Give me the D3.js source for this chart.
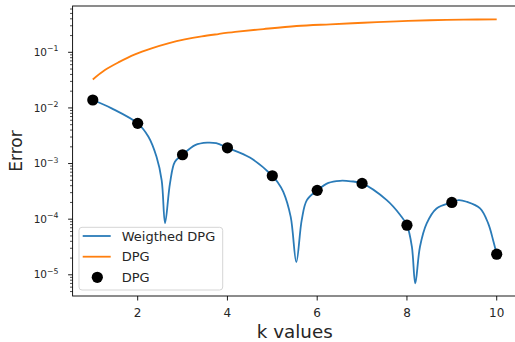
<!DOCTYPE html>
<html>
<head>
<meta charset="utf-8">
<script src="https://cdn.jsdelivr.net/npm/d3@7"></script>
<style>
  body { margin: 0; background: #fff; }
  text { font-family: "DejaVu Sans", sans-serif; fill: #262626; }
</style>
</head>
<body>
<div class="canvas"></div>
<script>
// dots: k = 1..10
const kValues = [1, 2, 3, 4, 5, 6, 7, 8, 9, 10];
const dpgDots = [0.0139, 0.00528, 0.00144, 0.00192, 0.000604, 0.00033, 0.00044, 0.000078, 0.0002, 0.0000235];

// weighted DPG curve
const weightedK = [1, 1.42, 2, 2.24, 2.42, 2.535, 2.61, 2.72, 2.83, 3, 3.28, 3.55, 3.75, 4, 4.5, 5, 5.12,
  5.245, 5.41, 5.535, 5.655, 5.77, 6, 6.25, 6.51, 6.75, 7, 7.55, 7.85, 8, 8.11, 8.185, 8.29,
  8.44, 8.66, 9, 9.15, 9.33, 9.63, 9.81, 9.92, 10];
const weightedErr = [0.0139, 0.00984, 0.00528, 0.00303, 0.00132, 0.0005, 0.000085, 0.00044, 0.00108, 0.00144,
  0.00215, 0.00238, 0.00232, 0.00192, 0.00128, 0.000604, 0.00046, 0.00031, 0.00011, 0.000017, 0.000096, 0.00022,
  0.00033, 0.00045, 0.00049, 0.00048, 0.00044, 0.00022, 0.000119, 0.000078, 0.000032, 0.000007,
  0.000032, 0.000084, 0.000156, 0.0002, 0.00022, 0.000206, 0.000156, 0.000084, 0.000042, 0.0000235];

// DPG curve
const dpgK = [1, 1.27, 1.57, 1.94, 2.31, 2.68, 3.05, 3.43, 3.8, 4.17, 4.8, 5.54, 6.29, 7.03, 7.77, 8.51, 9.26, 10];
const dpgErr = [0.0325, 0.048, 0.066, 0.092, 0.118, 0.145, 0.171, 0.194, 0.213, 0.232, 0.262, 0.297, 0.319,
  0.34, 0.361, 0.377, 0.386, 0.392];

const xTicks = [2, 4, 6, 8, 10];
const yExps = [-1, -2, -3, -4, -5];

const W = 515, H = 342;
const padL = 72.6, padR = 516.9, padT = 6, padB = 296;

const svg = d3.select(".canvas").append("svg").attr("width", W).attr("height", H);

const x = d3.scaleLinear().domain([0.55, 10.45]).range([padL, padR]);
const y = d3.scaleLog().domain([4.16e-6, 0.68]).range([padB, padT]);

const plot = svg.append("g");

const line = d3.line()
  .x((d) => x(d[0]))
  .y((d) => y(d[1]))
  .curve(d3.curveCatmullRom.alpha(0.5));

plot.append("path")
  .datum(d3.zip(weightedK, weightedErr))
  .attr("d", line)
  .attr("fill", "none")
  .attr("stroke", "#2a7bb8")
  .attr("stroke-width", 1.8);

plot.append("path")
  .datum(d3.zip(dpgK, dpgErr))
  .attr("d", line)
  .attr("fill", "none")
  .attr("stroke", "#ff7f0e")
  .attr("stroke-width", 1.8);

plot.selectAll("circle")
  .data(d3.zip(kValues, dpgDots))
  .enter()
  .append("circle")
  .attr("cx", (d) => x(d[0]))
  .attr("cy", (d) => y(d[1]))
  .attr("r", 5.6)
  .attr("fill", "#000");

// x axis ticks
const xAxis = svg.append("g");
xAxis.selectAll("line")
  .data(xTicks)
  .enter()
  .append("line")
  .attr("x1", (d) => x(d)).attr("x2", (d) => x(d))
  .attr("y1", padB).attr("y2", padB + 4.5)
  .attr("stroke", "#000").attr("stroke-width", 0.9);
xAxis.selectAll("text")
  .data(xTicks)
  .enter()
  .append("text")
  .attr("x", (d) => x(d))
  .attr("y", 317)
  .attr("text-anchor", "middle")
  .attr("font-size", 12)
  .text((d) => d);

// y axis ticks (log, with minor ticks)
const yAxis = svg.append("g");
const minor = [];
for (let e = -6; e <= 0; e++) {
  for (let m = 2; m <= 9; m++) {
    const v = m * Math.pow(10, e);
    if (v >= 4.16e-6 && v <= 0.68) minor.push(v);
  }
}
yAxis.selectAll(".minor")
  .data(minor)
  .enter()
  .append("line")
  .attr("class", "minor")
  .attr("x1", padL - 2.6).attr("x2", padL)
  .attr("y1", (d) => y(d)).attr("y2", (d) => y(d))
  .attr("stroke", "#000").attr("stroke-width", 0.7);
yAxis.selectAll(".major")
  .data(yExps)
  .enter()
  .append("line")
  .attr("class", "major")
  .attr("x1", padL - 4.5).attr("x2", padL)
  .attr("y1", (d) => y(Math.pow(10, d))).attr("y2", (d) => y(Math.pow(10, d)))
  .attr("stroke", "#000").attr("stroke-width", 0.9);
const yl = yAxis.selectAll(".ylab")
  .data(yExps)
  .enter()
  .append("text")
  .attr("class", "ylab")
  .attr("x", 58.5)
  .attr("y", (d) => y(Math.pow(10, d)) + 3.6)
  .attr("text-anchor", "end")
  .attr("font-size", 10.5);
yl.append("tspan").text("10");
yl.append("tspan").attr("dy", -4.5).attr("font-size", 7.8).text((d) => "\u2212" + Math.abs(d));

// frame
svg.append("rect")
  .attr("x", padL).attr("y", padT)
  .attr("width", padR - padL).attr("height", padB - padT)
  .attr("fill", "none").attr("stroke", "#000").attr("stroke-width", 0.9);

// axis labels
svg.append("text")
  .attr("x", (padL + padR) / 2)
  .attr("y", 337.5)
  .attr("text-anchor", "middle")
  .attr("font-size", 18.3)
  .text("k values");
svg.append("text")
  .attr("transform", "translate(21.7," + (padT + padB) / 2 + ") rotate(-90)")
  .attr("text-anchor", "middle")
  .attr("font-size", 17)
  .text("Error");

// legend
const legend = svg.append("g");
legend.append("rect")
  .attr("x", 79).attr("y", 227.3)
  .attr("width", 143.7).attr("height", 62.7)
  .attr("rx", 3)
  .attr("fill", "#fff").attr("fill-opacity", 0.8)
  .attr("stroke", "#d5d5d5").attr("stroke-width", 1);
const entries = [
  { label: "Weigthed DPG", kind: "line", color: "#2a7bb8" },
  { label: "DPG", kind: "line", color: "#ff7f0e" },
  { label: "DPG", kind: "dot", color: "#000" },
];
const rowY = [236, 256.7, 277.3];
entries.forEach((e, i) => {
  if (e.kind === "line") {
    legend.append("line")
      .attr("x1", 82.7).attr("x2", 110.7)
      .attr("y1", rowY[i]).attr("y2", rowY[i])
      .attr("stroke", e.color).attr("stroke-width", 1.8);
  } else {
    legend.append("circle")
      .attr("cx", 97.3).attr("cy", rowY[i])
      .attr("r", 5.6).attr("fill", e.color);
  }
  legend.append("text")
    .attr("x", 121.7).attr("y", rowY[i] + 4.6)
    .attr("font-size", 13)
    .text(e.label);
});
</script>
</body>
</html>
